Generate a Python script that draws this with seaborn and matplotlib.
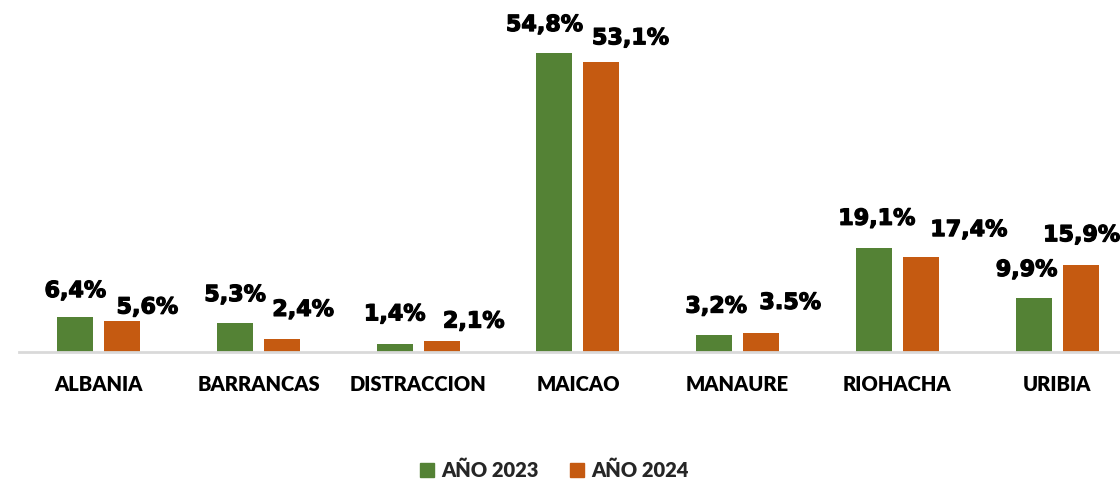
import matplotlib
matplotlib.use("Agg")
import matplotlib.pyplot as plt
import matplotlib.patheffects as pe
from matplotlib.lines import Line2D
import seaborn as sns
import pandas as pd

categories = ["ALBANIA", "BARRANCAS", "DISTRACCION", "MAICAO", "MANAURE", "RIOHACHA", "URIBIA"]
series_names = ["AÑO 2023", "AÑO 2024"]
values_2023 = [6.4, 5.3, 1.4, 54.8, 3.2, 19.1, 9.9]
values_2024 = [5.6, 2.4, 2.1, 53.1, 3.5, 17.4, 15.9]
labels_2023 = ["6,4%", "5,3%", "1,4%", "54,8%", "3,2%", "19,1%", "9,9%"]
labels_2024 = ["5,6%", "2,4%", "2,1%", "53,1%", "3.5%", "17,4%", "15,9%"]

# label offsets (pixels) relative to bar centre / bar top
offs_2023 = [(0, 26), (0, 28), (0, 30), (-10, 28), (2, 28), (3, 29), (-7, 28)]
offs_2024 = [(25, 14), (21, 29), (32, 19), (29, 24), (29, 30), (48, 27), (1, 30)]

colors = ["#548235", "#C55A11"]

df = pd.DataFrame({
    "cat": categories * 2,
    "val": values_2023 + values_2024,
    "year": [series_names[0]] * len(categories) + [series_names[1]] * len(categories),
})

sns.set_theme(style="white")
plt.rcParams["font.family"] = ["DejaVu Sans"]

fig = plt.figure(figsize=(11.2, 4.8), dpi=100)
ax = fig.add_axes([19 / 1120, 128 / 480, 1101 / 1120, 352 / 480])

sns.barplot(data=df, x="cat", y="val", hue="year", palette=colors,
            width=0.589, gap=0.234, ax=ax, legend=False, saturation=1, linewidth=0)

ax.set_xlim(-0.5, -0.5 + 1101 / 159.7)
ax.set_ylim(0, 352 / 5.456)

px = 0.72
for cont, labs, offs in zip(ax.containers, [labels_2023, labels_2024], [offs_2023, offs_2024]):
    for bar, lab, (dx, dy) in zip(cont, labs, offs):
        ax.annotate(lab, (bar.get_x() + bar.get_width() / 2, bar.get_height()),
                    xytext=(dx * px, dy * px), textcoords="offset points",
                    ha="center", va="center", fontsize=16, fontweight="bold",
                    color="black", family="DejaVu Sans",
                    path_effects=[pe.withStroke(linewidth=0.9, foreground="black")])

for s in ["top", "left", "right"]:
    ax.spines[s].set_visible(False)
ax.spines["bottom"].set_color("#D9D9D9")
ax.spines["bottom"].set_linewidth(2)
ax.set_yticks([])
ax.set_xlabel("")
ax.set_ylabel("")
ax.tick_params(axis="x", length=0, pad=16.5)
for t in ax.get_xticklabels():
    t.set_fontfamily("Lato")
    t.set_fontweight("heavy")
    t.set_fontsize(14.5)
    t.set_color("black")

handles = [Line2D([0], [0], marker="s", linestyle="none", markersize=10,
                  markerfacecolor=c, markeredgecolor=c) for c in colors]
leg = fig.legend(handles, series_names, loc="center", bbox_to_anchor=(553 / 1120, 1 - 470 / 480),
                 ncol=2, frameon=False, handletextpad=0.2, columnspacing=1.4,
                 prop={"family": "Lato", "weight": "heavy", "size": 14.5}, handlelength=1.0)

fig.savefig("out.png", dpi=100)
